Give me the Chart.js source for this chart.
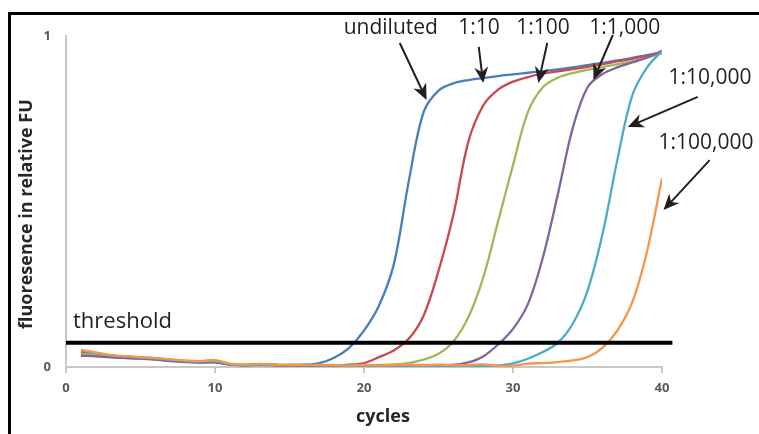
<!DOCTYPE html>
<html lang="en">
<head>
<meta charset="UTF-8">
<title>qPCR amplification curves</title>
<script src="https://cdn.jsdelivr.net/npm/chart.js"></script>
<style>
  html, body { margin: 0; padding: 0; background: #fff; overflow: hidden; }
  #wrap { position: relative; width: 759px; height: 434px; }
  #frame {
    position: absolute; left: 8px; top: 12px; width: 800px; height: 500px;
    border-top: 3px solid #000; border-left: 3px solid #000; pointer-events: none;
  }
</style>
</head>
<body>
<div id="wrap">
  <canvas id="qpcr" width="759" height="434"></canvas>
  <div id="frame"></div>
</div>
<script>
// --- data ---
const cycles = [1,2,3,4,5,6,7,8,9,10,11,12,13,14,15,16,17,18,19,20,
                21,22,23,24,25,26,27,28,29,30,31,32,33,34,35,36,37,38,39,40];

const undiluted = [0.045,0.040,0.034,0.031,0.028,0.025,0.021,0.018,0.016,0.015,
                   0.009,0.006,0.008,0.007,0.006,0.007,0.012,0.028,0.058,0.110,
                   0.185,0.310,0.560,0.770,0.835,0.857,0.867,0.873,0.879,0.884,
                   0.889,0.894,0.899,0.905,0.912,0.919,0.926,0.934,0.942,0.952];
const dil10 = [0.042,0.038,0.032,0.029,0.027,0.024,0.020,0.017,0.015,0.016,
               0.008,0.006,0.007,0.006,0.005,0.006,0.005,0.005,0.007,0.012,
               0.030,0.050,0.085,0.155,0.290,0.460,0.680,0.790,0.838,0.862,
               0.876,0.886,0.893,0.900,0.907,0.915,0.923,0.931,0.940,0.950];
const dil100 = [0.040,0.036,0.031,0.028,0.026,0.023,0.019,0.016,0.014,0.015,
                0.008,0.005,0.007,0.006,0.005,0.005,0.005,0.005,0.005,0.006,
                0.006,0.008,0.012,0.022,0.040,0.077,0.150,0.270,0.440,0.610,
                0.770,0.845,0.874,0.888,0.898,0.906,0.914,0.924,0.935,0.948];
const dil1000 = [0.034,0.032,0.029,0.027,0.025,0.022,0.018,0.015,0.013,0.014,
                 0.007,0.005,0.006,0.005,0.004,0.005,0.004,0.004,0.004,0.004,
                 0.005,0.004,0.005,0.005,0.005,0.006,0.014,0.032,0.068,0.115,
                 0.190,0.330,0.520,0.720,0.845,0.885,0.905,0.920,0.935,0.955];
const dil10000 = [0.050,0.042,0.035,0.032,0.029,0.026,0.022,0.018,0.016,0.018,
                  0.009,0.006,0.008,0.006,0.006,0.006,0.005,0.005,0.004,0.004,
                  0.005,0.004,0.004,0.004,0.004,0.003,0.003,0.003,0.005,0.011,
                  0.025,0.045,0.073,0.130,0.230,0.400,0.625,0.820,0.905,0.955];
const dil100000 = [0.052,0.044,0.036,0.033,0.030,0.027,0.023,0.020,0.018,0.021,
                   0.010,0.007,0.009,0.007,0.006,0.007,0.006,0.006,0.004,0.006,
                   0.005,0.006,0.007,0.006,0.007,0.006,0.006,0.008,0.004,0.004,
                   0.010,0.012,0.015,0.020,0.030,0.058,0.110,0.195,0.350,0.570];

const thresholdValue = 0.073;
const thresholdCycles = [0, 40.7];
const xTicks = [0, 10, 20, 30, 40];
const yTicks = [0, 1];

// callouts: label text, label centre, arrow tail and tip (in cycles / FU)
const callouts = [
  { text: 'undiluted', at: [21.8, 1.024],  tail: [22.4, 0.979], tip: [24.2, 0.807] },
  { text: '1:10',      at: [27.72, 1.024], tail: [27.7, 0.967], tip: [28.0, 0.858] },
  { text: '1:100',     at: [32.01, 1.024], tail: [32.3, 0.979], tip: [31.7, 0.858] },
  { text: '1:1,000',   at: [37.5, 1.024],  tail: [36.7, 1.003], tip: [35.4, 0.867] },
  { text: '1:10,000',  at: [43.22, 0.873], tail: [42.4, 0.816], tip: [37.7, 0.725] },
  { text: '1:100,000', at: [42.95, 0.677], tail: [43.2, 0.625], tip: [40.1, 0.474] }
];

const toPoints = vals => cycles.map((c, i) => ({ x: c, y: vals[i] }));

function curve(label, vals, color, order) {
  return {
    label, data: toPoints(vals), borderColor: color, backgroundColor: color,
    borderWidth: 2.3, pointRadius: 0, tension: 0.35, order
  };
}

const annotate = {
  id: 'annotate',
  afterDatasetsDraw(chart) {
    const { ctx, scales: { x, y } } = chart;
    ctx.save();
    ctx.fillStyle = '#231f20';
    ctx.strokeStyle = '#231f20';
    ctx.textAlign = 'center';
    ctx.textBaseline = 'middle';
    ctx.font = '21px "Open Sans"';
    callouts.forEach(c => {
      ctx.fillText(c.text, x.getPixelForValue(c.at[0]), y.getPixelForValue(c.at[1]));
      const tx = x.getPixelForValue(c.tail[0]), ty = y.getPixelForValue(c.tail[1]);
      const hx = x.getPixelForValue(c.tip[0]), hy = y.getPixelForValue(c.tip[1]);
      const a = Math.atan2(hy - ty, hx - tx);
      const cos = Math.cos(a), sin = Math.sin(a);
      const len = 16, half = 7;
      ctx.lineWidth = 2;
      ctx.beginPath();
      ctx.moveTo(tx, ty);
      ctx.lineTo(hx - len * 0.7 * cos, hy - len * 0.7 * sin);
      ctx.stroke();
      ctx.beginPath();
      ctx.moveTo(hx, hy);
      ctx.lineTo(hx - len * cos - half * sin, hy - len * sin + half * cos);
      ctx.lineTo(hx - len * 0.7 * cos, hy - len * 0.7 * sin);
      ctx.lineTo(hx - len * cos + half * sin, hy - len * sin - half * cos);
      ctx.closePath();
      ctx.fill();
    });
    // threshold label
    ctx.textAlign = 'left';
    ctx.font = '22px "Open Sans"';
    ctx.fillText('threshold', x.getPixelForValue(0.47), y.getPixelForValue(0.136));
    // axis titles
    ctx.fillStyle = '#262626';
    ctx.textAlign = 'center';
    ctx.font = 'bold 18px "Open Sans"';
    ctx.fillText('cycles', x.getPixelForValue(21.27), y.getPixelForValue(-0.151));
    ctx.translate(x.getPixelForValue(-2.62), y.getPixelForValue(0.462));
    ctx.rotate(-Math.PI / 2);
    ctx.fillText('fluoresence in relative FU', 0, 0);
    ctx.restore();
  }
};

new Chart(document.getElementById('qpcr'), {
  type: 'line',
  data: {
    datasets: [
      {
        label: 'threshold',
        data: thresholdCycles.map(c => ({ x: c, y: thresholdValue })),
        borderColor: '#000', borderWidth: 4, pointRadius: 0, clip: false, order: 0
      },
      curve('undiluted', undiluted, '#4a7ebb', 6),
      curve('1:10', dil10, '#c8494e', 5),
      curve('1:100', dil100, '#9bbb59', 4),
      curve('1:1,000', dil1000, '#8064a2', 3),
      curve('1:10,000', dil10000, '#4bacc6', 2),
      curve('1:100,000', dil100000, '#f79646', 1)
    ]
  },
  options: {
    responsive: false,
    animation: false,
    layout: { padding: { left: 0, right: 97, top: 36, bottom: 0 } },
    plugins: { legend: { display: false }, tooltip: { enabled: false } },
    scales: {
      x: {
        type: 'linear', min: 0, max: 40,
        afterFit: s => { s.height = 67; },
        afterBuildTicks: s => { s.ticks = xTicks.map(v => ({ value: v })); },
        grid: { drawOnChartArea: false, drawTicks: true, tickLength: 6, color: '#c8c8c8', lineWidth: 2 },
        border: { display: true, color: '#c8c8c8', width: 2 },
        ticks: { padding: 7, color: '#595959', font: { family: 'Open Sans', size: 13, weight: 'bold' } }
      },
      y: {
        min: 0, max: 1,
        afterFit: s => { s.width = 66; },
        afterBuildTicks: s => { s.ticks = yTicks.map(v => ({ value: v })); },
        grid: { display: false },
        border: { display: true, color: '#c8c8c8', width: 2 },
        ticks: { padding: 7, color: '#595959', font: { family: 'Open Sans', size: 13, weight: 'bold' } }
      }
    }
  },
  plugins: [annotate]
});
</script>
</body>
</html>
